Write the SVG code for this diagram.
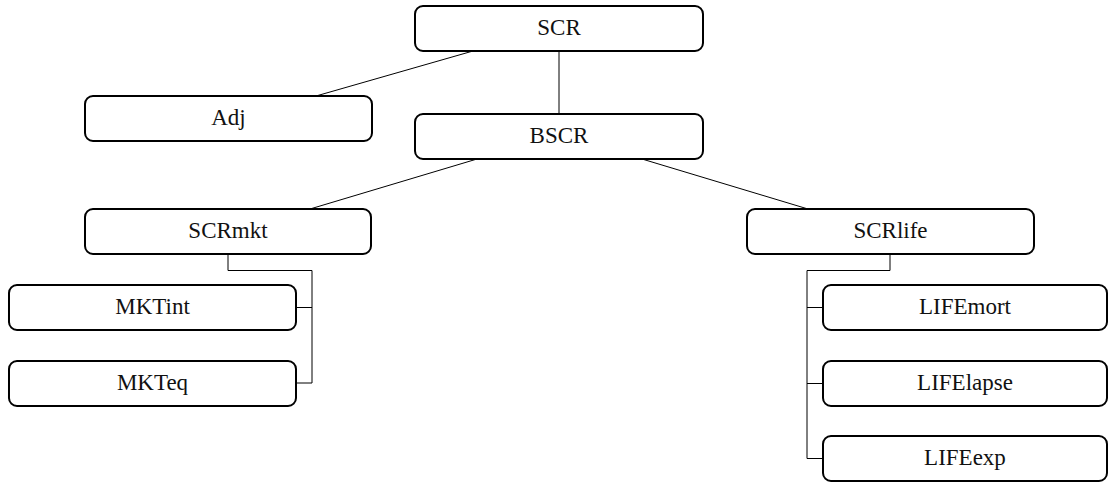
<svg xmlns="http://www.w3.org/2000/svg" width="1108" height="482" viewBox="0 0 1108 482">
<style>
.box{fill:#fff;stroke:#000;stroke-width:2}
.lbl{font-family:"Liberation Serif","DejaVu Serif",serif;font-size:23px;fill:#111;text-anchor:middle}
.con{fill:none;stroke:#000;stroke-width:1}
</style>
<rect width="1108" height="482" fill="#fff"/>
<g id="connectors">
<line class="con" x1="559" y1="51" x2="559" y2="114"/>
<line class="con" x1="473" y1="51" x2="316" y2="96"/>
<line class="con" x1="477" y1="159" x2="310" y2="209"/>
<line class="con" x1="642" y1="159" x2="808" y2="209"/>
<polyline class="con" points="228,254 228,270.5 312,270.5 312,383 296,383"/>
<line class="con" x1="296" y1="307.5" x2="312" y2="307.5"/>
<polyline class="con" points="890,254 890,270.5 807,270.5 807,458.5 823,458.5"/>
<line class="con" x1="807" y1="307.5" x2="823" y2="307.5"/>
<line class="con" x1="807" y1="383.5" x2="823" y2="383.5"/>
</g>
<g id="SCR"><rect class="box" x="415" y="6" width="288" height="45" rx="8"/><text class="lbl" x="559" y="35">SCR</text></g>
<g id="Adj"><rect class="box" x="85" y="96" width="287" height="45" rx="8"/><text class="lbl" x="228.5" y="125">Adj</text></g>
<g id="BSCR"><rect class="box" x="415" y="114" width="288" height="45" rx="8"/><text class="lbl" x="559" y="143">BSCR</text></g>
<g id="SCRmkt"><rect class="box" x="85" y="209" width="286" height="45" rx="8"/><text class="lbl" x="228" y="238">SCRmkt</text></g>
<g id="SCRlife"><rect class="box" x="747" y="209" width="287" height="45" rx="8"/><text class="lbl" x="890.5" y="238">SCRlife</text></g>
<g id="MKTint"><rect class="box" x="9" y="285" width="287" height="45" rx="8"/><text class="lbl" x="152.5" y="314">MKTint</text></g>
<g id="MKTeq"><rect class="box" x="9" y="361" width="287" height="45" rx="8"/><text class="lbl" x="152.5" y="390">MKTeq</text></g>
<g id="LIFEmort"><rect class="box" x="823" y="285" width="284" height="45" rx="8"/><text class="lbl" x="965" y="314">LIFEmort</text></g>
<g id="LIFElapse"><rect class="box" x="823" y="361" width="284" height="45" rx="8"/><text class="lbl" x="965" y="390">LIFElapse</text></g>
<g id="LIFEexp"><rect class="box" x="823" y="436" width="284" height="45" rx="8"/><text class="lbl" x="965" y="465">LIFEexp</text></g>
</svg>
